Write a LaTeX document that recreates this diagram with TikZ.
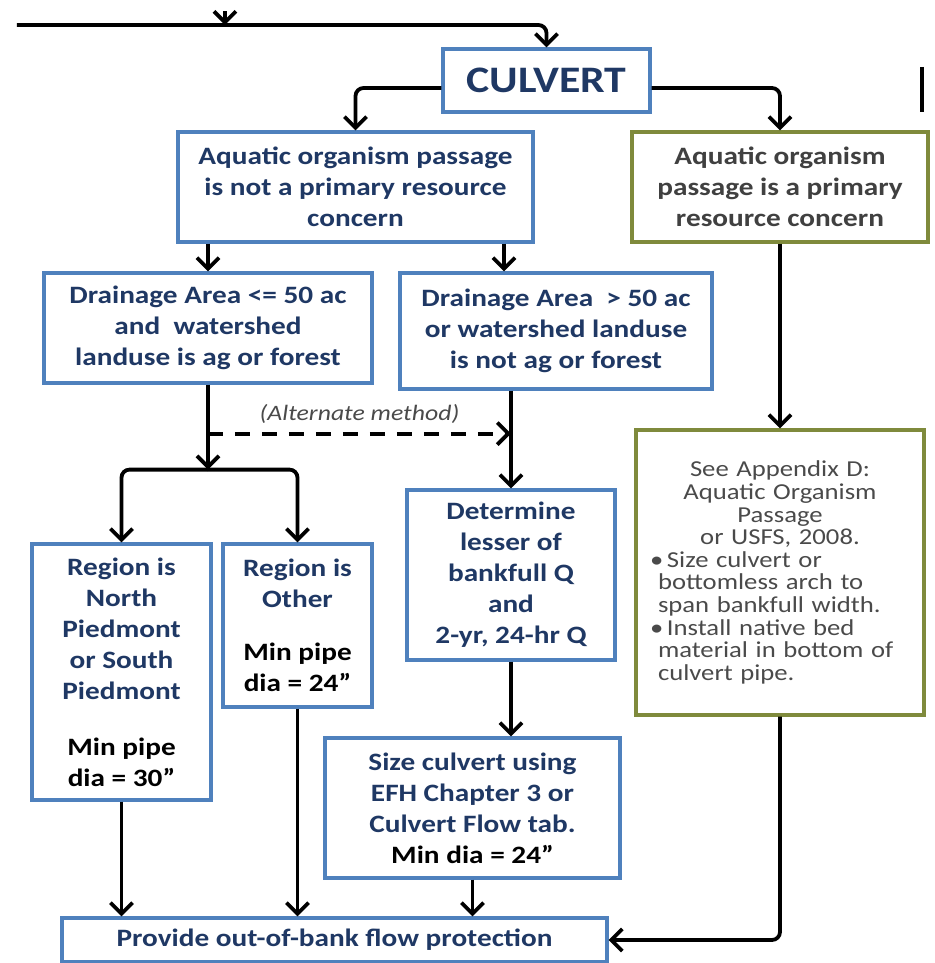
\documentclass[tikz,border=0pt]{standalone}
\usepackage{fontspec}
\setmainfont{Carlito}[FakeStretch=1.17]
\usepackage{tikz}
\usetikzlibrary{arrows.meta,positioning}
\definecolor{boxblue}{HTML}{4F81BD}
\definecolor{boxolive}{HTML}{7F8A3C}
\definecolor{textblue}{HTML}{1F3864}
\definecolor{textgray}{HTML}{404040}
\definecolor{notegray}{HTML}{4A4A4A}
\newcommand{\blk}[1]{\textcolor{black}{#1}}
\tikzstyle{bluebox} = [rectangle, draw=boxblue, line width=1.6pt, text=textblue, align=center, inner sep=2pt, font=\bfseries\fontsize{12.5}{15.5}\selectfont]
\tikzstyle{olivebox} = [rectangle, draw=boxolive, line width=1.6pt, text=textgray, align=center, inner sep=2pt, font=\bfseries\fontsize{12.5}{15.5}\selectfont]
\tikzstyle{arrow} = [line width=1.9pt,->,>={Straight Barb[length=5.5pt,width=11pt]}]
\tikzstyle{altarrow} = [arrow, dash pattern=on 7.5pt off 6pt]

\begin{document}
\begin{tikzpicture}[node distance=50pt]
    \useasboundingbox (-273.25pt,40.25pt) rectangle (193.75pt,-441.25pt);
    \node (culvert) [bluebox, minimum width=103.5pt, minimum height=31.5pt, font=\bfseries\fontsize{18.7}{22}\selectfont] {CULVERT};
    \node (notaop) [bluebox, below of=culvert, xshift=-95.5pt, yshift=-3.25pt, minimum width=177.5pt, minimum height=55pt] {Aquatic organism passage\\ is not a primary resource\\ concern};
    \node (aop) [olivebox, below of=culvert, xshift=116.75pt, yshift=-3.25pt, minimum width=148pt, minimum height=55pt] {Aquatic organism\\ passage is a primary\\ resource concern};

    \node (da1) [bluebox, below of=notaop, xshift=-73.75pt, yshift=-20.5pt, minimum width=164pt, minimum height=55pt] {Drainage Area <= 50 ac\\ and~ watershed\\ landuse is ag or forest};
    \node (da2) [bluebox, below of=notaop, xshift=100.25pt, yshift=-22pt, minimum width=156pt, minimum height=58pt] {Drainage Area ~> 50 ac\\ or watershed landuse\\ is not ag or forest};

    \node (reg1) [bluebox, below of=da1, xshift=-43.25pt, yshift=-122pt, minimum width=89.5pt, minimum height=128pt] {Region is\\ North\\ Piedmont\\ or South\\ Piedmont\\[12.5pt] \blk{Min pipe}\\ \blk{dia = 30”}};
    \node (reg2) [bluebox, below of=da1, xshift=44.75pt, yshift=-98.75pt, minimum width=74.5pt, minimum height=81.5pt] {Region is\\ Other\\[11pt] \blk{Min pipe}\\ \blk{dia = 24”}};

    \node (det) [bluebox, below of=da2, xshift=-22.5pt, yshift=-72pt, minimum width=104pt, minimum height=85pt] {Determine\\ lesser of\\ bankfull Q\\ and\\ 2-yr, 24-hr Q};
    \node (size) [bluebox, below of=det, xshift=-19.25pt, yshift=-66.5pt, minimum width=147.5pt, minimum height=70pt] {Size culvert using\\ EFH Chapter 3 or\\ Culvert Flow tab.\\ \blk{Min dia = 24”}};

    \node (app) [olivebox, below of=aop, yshift=-142.75pt, minimum width=144pt, minimum height=142.5pt, text width=130pt, text=notegray, font=\fontsize{11.4}{11.3}\selectfont] {See Appendix D:\\ Aquatic Organism\\ Passage\\ or USFS, 2008.\par
        \raggedright
        \makebox[8.5pt][l]{\textbullet}Size culvert or\\
        \hspace*{4pt}bottomless arch to\\
        \hspace*{4pt}span bankfull width.\\
        \makebox[8.5pt][l]{\textbullet}Install native bed\\
        \hspace*{4pt}material in bottom of\\
        \hspace*{4pt}culvert pipe.\par};

    \node (out1) [bluebox, below of=size, xshift=-69pt, yshift=-16pt, minimum width=272.5pt, minimum height=22pt] {Provide out-of-bank flow protection};

    % feed line from above
    \coordinate (feed) at (-264.75pt,27.75pt);
    \coordinate (in0) at (-160.75pt,34.5pt);
    \draw [arrow] (in0) -- (in0 |- feed);
    \draw [arrow, rounded corners=4pt] (feed) -| (culvert.north);
    \draw [line width=1.6pt] (187.75pt,6.75pt) -- (187.75pt,-15.75pt);

    \draw [arrow, rounded corners=4pt] ([yshift=-3.75pt]culvert.west) -| (notaop.north);
    \draw [arrow, rounded corners=4pt] ([yshift=-3.75pt]culvert.east) -| (aop.north);

    \coordinate (da2in) at ([xshift=-26pt]da2.north);
    \draw [arrow] (notaop.south -| da1.north) -- (da1.north);
    \draw [arrow] (notaop.south -| da2in) -- (da2in);

    \coordinate (split) at ([yshift=-42.5pt]da1.south);
    \coordinate (alt) at ([yshift=-24.5pt]da1.south);
    \draw [arrow] (da1.south) -- (split);
    \draw [arrow, rounded corners=4pt] (split) -| (reg1.north);
    \draw [arrow, rounded corners=4pt] (split) -| (reg2.north);
    \draw [altarrow] (alt) -- node[above, yshift=1pt, text=notegray, font=\itshape\fontsize{11}{13}\selectfont] {(Alternate method)} (alt -| det.north);

    \draw [arrow] (det.north |- da2.south) -- (det.north);
    \draw [arrow] (det.south) -- (det.south |- size.north);
    \draw [arrow] (aop) -- (app);

    \draw [arrow] (reg1.south) -- (reg1.south |- out1.north);
    \draw [arrow] (reg2.south) -- (reg2.south |- out1.north);
    \draw [arrow] (size.south) -- (size.south |- out1.north);
    \draw [arrow, rounded corners=4pt] (app.south) |- (out1.east);
\end{tikzpicture}
\end{document}
